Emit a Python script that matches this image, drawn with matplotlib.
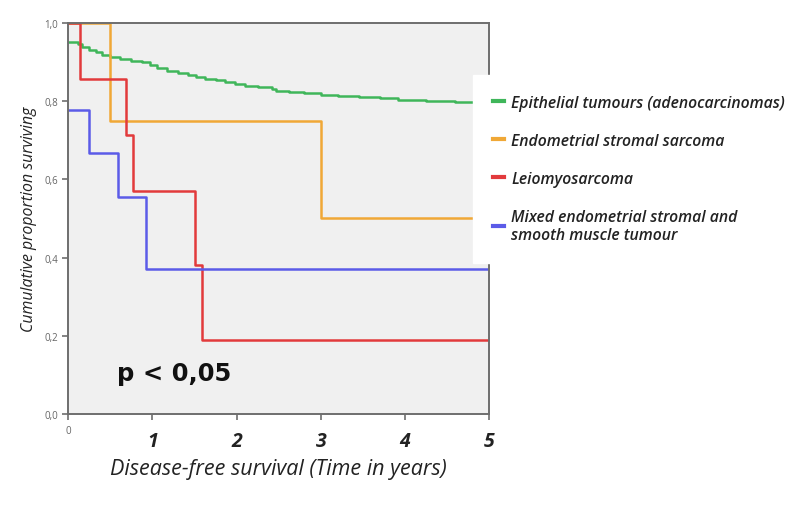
import matplotlib
matplotlib.use("Agg")
import matplotlib.pyplot as plt

plt.rcParams['font.family'] = ['Open Sans', 'DejaVu Sans']

# Kaplan-Meier curves (step "post")
epi_t = [0.00, 0.12, 0.16, 0.25, 0.33, 0.40, 0.50, 0.62, 0.75, 0.88, 0.97,
         1.05, 1.17, 1.30, 1.42, 1.52, 1.62, 1.75, 1.86, 1.98, 2.10, 2.25,
         2.42, 2.47, 2.62, 2.80, 3.00, 3.20, 3.45, 3.70, 3.92, 4.25, 4.60, 5.00]
epi_s = [0.951, 0.945, 0.938, 0.932, 0.925, 0.918, 0.912, 0.908, 0.904, 0.899, 0.892,
         0.886, 0.878, 0.872, 0.867, 0.862, 0.857, 0.853, 0.849, 0.845, 0.840, 0.836,
         0.831, 0.825, 0.823, 0.820, 0.817, 0.814, 0.811, 0.808, 0.804, 0.801, 0.797, 0.797]

ess_t = [0.00, 0.50, 3.00, 5.00]
ess_s = [1.00, 0.75, 0.50, 0.50]

lms_t = [0.00, 0.14, 0.68, 0.77, 1.50, 1.59, 5.00]
lms_s = [1.000, 0.857, 0.714, 0.571, 0.381, 0.190, 0.190]

mix_t = [0.00, 0.25, 0.59, 0.92, 5.00]
mix_s = [0.778, 0.667, 0.556, 0.370, 0.370]

series = [
    (epi_t, epi_s, '#3fb65a', 'Epithelial tumours (adenocarcinomas)'),
    (ess_t, ess_s, '#f0a836', 'Endometrial stromal sarcoma'),
    (lms_t, lms_s, '#e23a3c', 'Leiomyosarcoma'),
    (mix_t, mix_s, '#5b5be8', 'Mixed endometrial stromal and\nsmooth muscle tumour'),
]

yticks = [0.0, 0.2, 0.4, 0.6, 0.8, 1.0]
ytick_labels = ['0,0', '0,2', '0,4', '0,6', '0,8', '1,0']
xticks = [0, 1, 2, 3, 4, 5]
xtick_labels = ['0', '1', '2', '3', '4', '5']

fig = plt.figure(figsize=(8.01, 5.10), dpi=100)
ax = fig.add_axes([0.0853, 0.1863, 0.5252, 0.7667])
ax.set_facecolor('#f0f0f0')

handles = []
for t, s, c, lab in series:
    ln, = ax.step(t, s, where='post', color=c, lw=1.8, label=lab)
    handles.append(ln)

ax.set_xlim(0, 5)
ax.set_ylim(0, 1)
for sp in ax.spines.values():
    sp.set_color('#6e6e6e')
    sp.set_linewidth(1.4)

ax.set_yticks(yticks)
ax.set_yticklabels(ytick_labels, fontsize=7, color='#666666')
ax.set_xticks(xticks)
ax.set_xticklabels(xtick_labels, fontsize=14, fontstyle='italic',
                   fontweight='bold', color='#222222')
# the "0" label is small and plain, as in the original
lbl0 = ax.get_xticklabels()[0]
lbl0.set_fontsize(7)
lbl0.set_fontweight('normal')
lbl0.set_fontstyle('normal')
lbl0.set_color('#666666')
lbl0.set_verticalalignment('center')
ax.tick_params(axis='both', direction='out', length=4, width=1.2, color='#6e6e6e')
ax.tick_params(axis='x', pad=8)

ax.set_xlabel('Disease-free survival (Time in years)', fontsize=15.5,
              fontstyle='italic', color='#222222', labelpad=5)
ax.set_ylabel('Cumulative proportion surviving', fontsize=11.4,
              fontstyle='italic', color='#222222', labelpad=5)

ax.text(0.58, 0.105, 'p < 0,05', fontsize=17.5, fontweight='bold',
        family='DejaVu Sans', color='#111111', ha='left', va='center')

leg = fig.legend(handles=handles, loc='upper left',
                 bbox_to_anchor=(473 / 801, 1 - 76 / 510),
                 frameon=True, fancybox=False, borderaxespad=0,
                 handlelength=0.75, handletextpad=0.45, labelspacing=1.4,
                 borderpad=1.25,
                 prop={'size': 11.3, 'style': 'italic', 'weight': 'semibold'})
leg.get_frame().set_facecolor('white')
leg.get_frame().set_edgecolor('white')
leg.get_frame().set_alpha(1)
for txt in leg.get_texts():
    txt.set_color('#222222')
for ln in leg.get_lines():
    ln.set_linewidth(3)

fig.savefig('out.png', dpi=100)
